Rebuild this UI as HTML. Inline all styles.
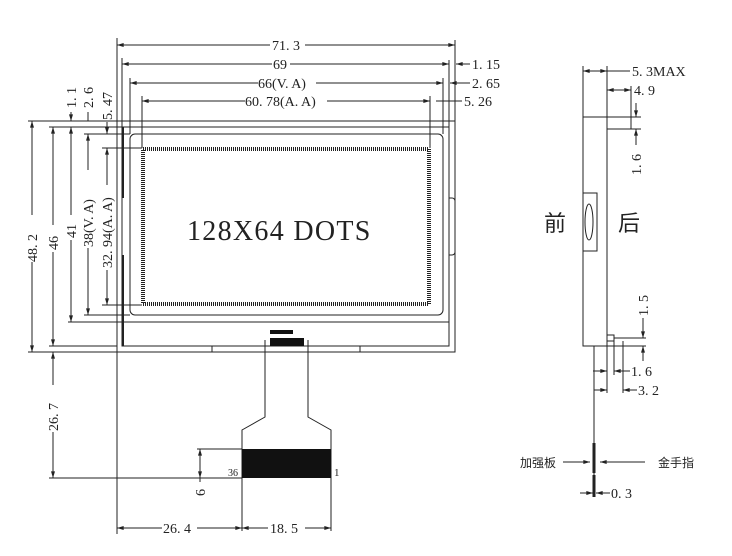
<!DOCTYPE html>
<html><head><meta charset="utf-8"><style>
html,body{margin:0;padding:0;background:#fff}
svg{display:block}
text{font-family:"Liberation Serif","Noto Serif CJK SC",serif;font-size:14px;fill:#222}
.c{font-family:"Liberation Serif","Noto Sans CJK SC",serif}
</style></head><body>
<svg width="732" height="556" viewBox="0 0 732 556" xmlns="http://www.w3.org/2000/svg">
<defs>
<marker id="a" viewBox="0 0 10 6" refX="10" refY="3" markerWidth="8" markerHeight="4" orient="auto-start-reverse"><path d="M0,0L10,3L0,6z" fill="#222"/></marker>
</defs>
<g stroke="#222" stroke-width="1" fill="none">
<rect x="117" y="121" width="338" height="231"/>
<rect x="122" y="127" width="327" height="219"/>
<line x1="68" y1="322" x2="449" y2="322"/>
<rect x="130" y="134" width="313" height="181" rx="5"/>
<rect x="143" y="149" width="286" height="155" stroke-width="4" stroke-dasharray="1 1"/>
<line x1="123" y1="127" x2="123" y2="198" stroke-width="2"/>
<line x1="123" y1="255" x2="123" y2="346" stroke-width="2"/>
<path d="M449,198 h3 a3,3 0 0 1 3,3 v51 a3,3 0 0 1 -3,3 h-3"/>
<line x1="212" y1="346" x2="212" y2="352"/><line x1="360" y1="346" x2="360" y2="352"/>
<line x1="117" y1="38" x2="117" y2="534"/>
<line x1="122" y1="58" x2="122" y2="127"/>
<line x1="130" y1="78" x2="130" y2="134"/>
<line x1="142" y1="96" x2="142" y2="148"/>
<line x1="455" y1="40" x2="455" y2="121"/>
<line x1="449" y1="60" x2="449" y2="127"/>
<line x1="443" y1="78" x2="443" y2="134"/>
<line x1="430" y1="96" x2="430" y2="148"/>
<line x1="28" y1="121" x2="117" y2="121"/>
<line x1="49" y1="127" x2="122" y2="127"/>
<line x1="84" y1="134" x2="130" y2="134"/>
<line x1="102" y1="148" x2="142" y2="148"/>
<line x1="102" y1="305" x2="142" y2="305"/>
<line x1="84" y1="315" x2="130" y2="315"/>
<line x1="49" y1="346" x2="117" y2="346"/>
<line x1="28" y1="352" x2="117" y2="352"/>
<line x1="117" y1="45" x2="270" y2="45" marker-start="url(#a)"/><line x1="305" y1="45" x2="455" y2="45" marker-end="url(#a)"/>
<line x1="122" y1="64" x2="272" y2="64" marker-start="url(#a)"/><line x1="290" y1="64" x2="449" y2="64" marker-end="url(#a)"/>
<line x1="470" y1="64" x2="456" y2="64" marker-end="url(#a)"/>
<line x1="130" y1="83" x2="258" y2="83" marker-start="url(#a)"/><line x1="316" y1="83" x2="443" y2="83" marker-end="url(#a)"/>
<line x1="470" y1="83" x2="450" y2="83" marker-end="url(#a)"/>
<line x1="142" y1="101" x2="245" y2="101" marker-start="url(#a)"/><line x1="327" y1="101" x2="430" y2="101" marker-end="url(#a)"/>
<line x1="436" y1="101" x2="462" y2="101"/>
<line x1="32" y1="121" x2="32" y2="215" marker-start="url(#a)"/><line x1="32" y1="262" x2="32" y2="352" marker-end="url(#a)"/>
<line x1="53" y1="127" x2="53" y2="225" marker-start="url(#a)"/><line x1="53" y1="252" x2="53" y2="346" marker-end="url(#a)"/>
<line x1="71" y1="112" x2="71" y2="121" marker-end="url(#a)"/>
<line x1="71" y1="127" x2="71" y2="215" marker-start="url(#a)"/><line x1="71" y1="240" x2="71" y2="322" marker-end="url(#a)"/>
<line x1="88" y1="112" x2="88" y2="121"/>
<line x1="88" y1="134" x2="88" y2="170" marker-start="url(#a)"/><line x1="88" y1="248" x2="88" y2="315" marker-end="url(#a)"/>
<line x1="107" y1="122" x2="107" y2="134" marker-end="url(#a)"/>
<line x1="107" y1="148" x2="107" y2="185" marker-start="url(#a)"/><line x1="107" y1="270" x2="107" y2="305" marker-end="url(#a)"/>
<path d="M265,340 V417 L242,430 V531 M308,340 V417 L331,430 V531"/>
<line x1="53" y1="352" x2="53" y2="385" marker-start="url(#a)"/><line x1="53" y1="432" x2="53" y2="478" marker-end="url(#a)"/>
<line x1="49" y1="478" x2="242" y2="478"/>
<line x1="197" y1="449" x2="242" y2="449"/>
<line x1="200" y1="449" x2="200" y2="478" marker-start="url(#a)" marker-end="url(#a)"/>
<line x1="200" y1="478" x2="200" y2="482"/>
<line x1="117" y1="528" x2="162" y2="528" marker-start="url(#a)"/><line x1="197" y1="528" x2="242" y2="528" marker-end="url(#a)"/>
<line x1="242" y1="528" x2="268" y2="528" marker-start="url(#a)"/><line x1="305" y1="528" x2="331" y2="528" marker-end="url(#a)"/>
<rect x="583" y="117" width="24" height="229"/>
<rect x="607" y="117" width="24" height="12"/>
<rect x="583" y="193" width="14" height="58"/>
<ellipse cx="589" cy="222" rx="4" ry="18"/>
<line x1="583" y1="66" x2="583" y2="117"/><line x1="607" y1="66" x2="607" y2="117"/>
<line x1="583" y1="71" x2="607" y2="71" marker-start="url(#a)" marker-end="url(#a)"/><line x1="607" y1="71" x2="630" y2="71"/>
<line x1="631" y1="86" x2="631" y2="117"/>
<line x1="607" y1="90" x2="631" y2="90" marker-start="url(#a)" marker-end="url(#a)"/>
<line x1="631" y1="117" x2="641" y2="117"/><line x1="631" y1="129" x2="641" y2="129"/>
<line x1="636" y1="103" x2="636" y2="117" marker-end="url(#a)"/><line x1="636" y1="145" x2="636" y2="129" marker-end="url(#a)"/>
<rect x="607" y="335" width="7" height="6"/><line x1="614" y1="338" x2="623" y2="338"/>
<line x1="614" y1="338" x2="646" y2="338"/><line x1="607" y1="346" x2="646" y2="346"/>
<line x1="643" y1="318" x2="643" y2="338" marker-end="url(#a)"/><line x1="643" y1="361" x2="643" y2="346" marker-end="url(#a)"/>
<line x1="594" y1="346" x2="594" y2="497"/>
<line x1="594" y1="443" x2="594" y2="473" stroke-width="3"/><line x1="594" y1="475" x2="594" y2="497" stroke-width="3"/>
<line x1="607" y1="341" x2="607" y2="393"/><line x1="614" y1="341" x2="614" y2="375"/><line x1="623" y1="341" x2="623" y2="393"/>
<line x1="593" y1="371" x2="607" y2="371" marker-end="url(#a)"/><line x1="630" y1="371" x2="614" y2="371" marker-end="url(#a)"/>
<line x1="594" y1="390" x2="607" y2="390" marker-end="url(#a)"/><line x1="637" y1="390" x2="623" y2="390" marker-end="url(#a)"/>
<line x1="563" y1="462" x2="590" y2="462" marker-end="url(#a)"/>
<line x1="645" y1="462" x2="600" y2="462" marker-end="url(#a)"/>
<line x1="580" y1="493" x2="593" y2="493" marker-end="url(#a)"/><line x1="610" y1="493" x2="596" y2="493" marker-end="url(#a)"/>
</g>
<rect x="270" y="330" width="23" height="4" fill="#111"/>
<rect x="270" y="338" width="34" height="8" fill="#111"/>
<rect x="242" y="449" width="89" height="29" fill="#111"/>
<text x="272" y="50">71. 3</text>
<text x="273" y="69">69</text>
<text x="258" y="88">66(V. A)</text>
<text x="245" y="106">60. 78(A. A)</text>
<text x="472" y="69">1. 15</text>
<text x="472" y="88">2. 65</text>
<text x="464" y="106">5. 26</text>
<text x="187" y="240" style="font-size:28px;letter-spacing:1.3px">128X64  DOTS</text>
<g>
<text transform="translate(37,262) rotate(-90)">48. 2</text>
<text transform="translate(58,250) rotate(-90)">46</text>
<text transform="translate(76,238) rotate(-90)">41</text>
<text transform="translate(76,108) rotate(-90)">1. 1</text>
<text transform="translate(93,108) rotate(-90)">2. 6</text>
<text transform="translate(112,120) rotate(-90)">5. 47</text>
<text transform="translate(93,247) rotate(-90)">38(V. A)</text>
<text transform="translate(112,268) rotate(-90)">32. 94(A. A)</text>
<text transform="translate(58,431) rotate(-90)">26. 7</text>
<text transform="translate(205,496) rotate(-90)">6</text>
<text transform="translate(641,175) rotate(-90)">1. 6</text>
<text transform="translate(648,316) rotate(-90)">1. 5</text>
</g>
<text x="228" y="476" style="font-size:10px">36</text>
<text x="334" y="476" style="font-size:11px">1</text>
<text x="163" y="533">26. 4</text>
<text x="270" y="533">18. 5</text>
<text x="632" y="76">5. 3MAX</text>
<text x="634" y="95">4. 9</text>
<text x="631" y="376">1. 6</text>
<text x="638" y="395">3. 2</text>
<text x="611" y="498">0. 3</text>
<text class="c" x="544" y="231" style="font-size:22px">前</text>
<text class="c" x="618" y="231" style="font-size:22px">后</text>
<text class="c" x="520" y="467" style="font-size:12px">加强板</text>
<text class="c" x="658" y="467" style="font-size:12px">金手指</text>
</svg>
</body></html>
